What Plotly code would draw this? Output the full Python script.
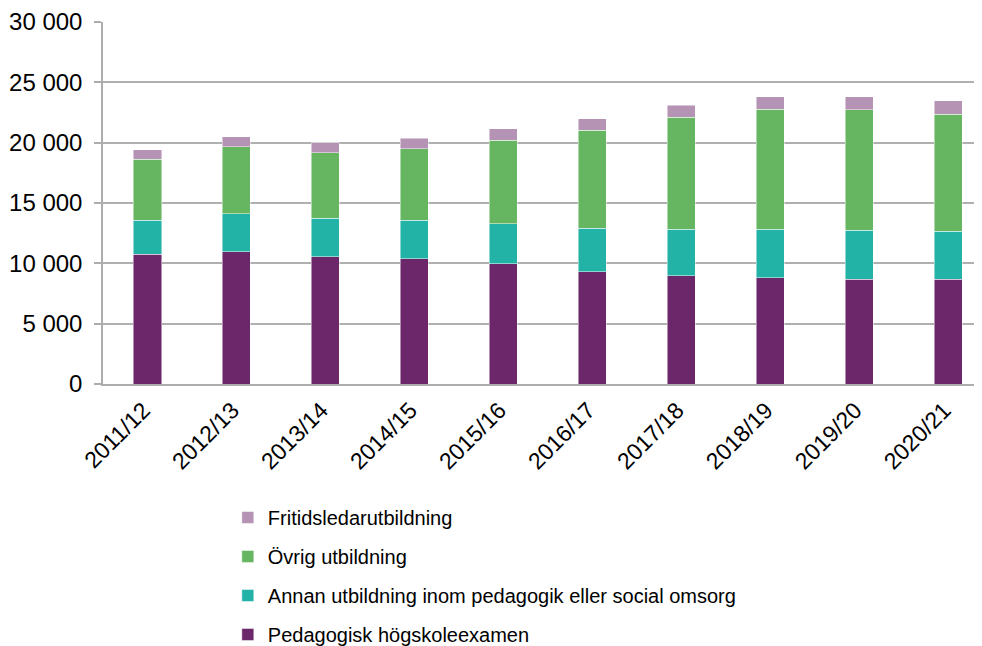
import plotly.graph_objects as go

years = ["2011/12", "2012/13", "2013/14", "2014/15", "2015/16",
         "2016/17", "2017/18", "2018/19", "2019/20", "2020/21"]

pedagogisk = [10750, 10960, 10550, 10390, 9980, 9320, 8990, 8820, 8690, 8690]
annan = [2830, 3170, 3170, 3190, 3320, 3570, 3820, 3990, 4040, 3960]
ovrig = [5050, 5520, 5460, 5910, 6900, 8160, 9290, 9940, 10000, 9720]
fritids = [770, 830, 800, 870, 960, 940, 1010, 1050, 1070, 1100]

y_ticks = [0, 5000, 10000, 15000, 20000, 25000, 30000]

series = [
    ("Pedagogisk högskoleexamen", pedagogisk, "#6B2769", 4),
    ("Annan utbildning inom pedagogik eller social omsorg", annan, "#22B2A6", 3),
    ("Övrig utbildning", ovrig, "#66B560", 2),
    ("Fritidsledarutbildning", fritids, "#B593B5", 1),
]

fig = go.Figure()
for i, (name, vals, col, rank) in enumerate(series):
    fig.add_trace(go.Bar(
        x=years, y=vals, name=name,
        marker=dict(color=col, line=dict(color="rgba(255,255,255,0.6)", width=0.8)),
        width=0.315, legendgroup=f"g{i}", legendrank=rank,
    ))

fig.update_layout(
    barmode="stack",
    width=974, height=638,
    margin=dict(l=95, r=0, t=14, b=262),
    paper_bgcolor="white", plot_bgcolor="white",
    separators=", ",
    font=dict(family="Liberation Sans, Arial, sans-serif", color="black", size=20),
    showlegend=True,
    legend=dict(
        x=0.142, xanchor="left", y=0.232, yanchor="top", yref="container",
        traceorder="grouped", tracegroupgap=10,
        font=dict(size=20), bgcolor="rgba(0,0,0,0)",
    ),
    xaxis=dict(
        type="category", range=[-0.5, 9.38],
        tickangle=-45, tickfont=dict(size=23),
        ticklabelstandoff=2, ticklabelshift=-4,
        showline=True, linecolor="#ADADAD", linewidth=1.5,
        ticks="", showgrid=False,
    ),
    yaxis=dict(
        range=[0, 30000], tickvals=y_ticks, tickformat=",d",
        tickfont=dict(size=24), ticklabelstandoff=7,
        showline=True, linecolor="#ADADAD", linewidth=1.5,
        ticks="outside", ticklen=7, tickcolor="#ADADAD", tickwidth=1.5,
        showgrid=True, gridcolor="#B0B0B0", gridwidth=1.5,
        zeroline=False,
    ),
)

fig.write_html("out.html")
